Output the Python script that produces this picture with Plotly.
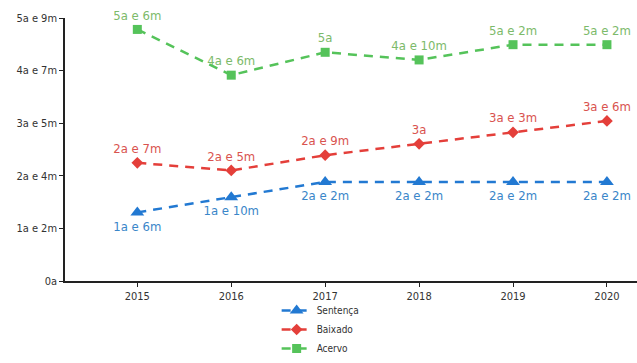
import plotly.graph_objects as go

# Tempo médio (em meses) por ano
anos = ["2015", "2016", "2017", "2018", "2019", "2020"]
sentenca = [18, 22, 26, 26, 26, 26]
baixado = [31, 29, 33, 36, 39, 42]
acervo = [66, 54, 60, 58, 62, 62]

# Marcas do eixo Y (em meses)
y_ticks = [0, 13.8, 27.6, 41.4, 55.2, 69]


def fmt(meses):
    total = int(round(meses))
    a, m = divmod(total, 12)
    return f"{a}a e {m}m" if m else f"{a}a"


FONT = "DejaVu Sans Condensed"

series = [
    ("Sentença", sentenca, "#2279d2", "#3a86c9", "triangle-up", 12, "bottom center"),
    ("Baixado", baixado, "#e43f3a", "#d9534f", "diamond", 9, "top center"),
    ("Acervo", acervo, "#55c35a", "#7cba6a", "square", 9, "top center"),
]

fig = go.Figure()
for name, vals, col, tcol, sym, sz, pos in series:
    fig.add_trace(go.Scatter(
        x=anos, y=vals, name=name,
        mode="lines+markers+text",
        line=dict(color=col, width=2.5, dash="9px,7px"),
        marker=dict(symbol=sym, size=sz, color=col),
        text=[fmt(v) for v in vals],
        textposition=pos,
        textfont=dict(family=FONT, size=13, color=tcol),
        cliponaxis=False,
    ))

fig.update_layout(
    width=637, height=363,
    margin=dict(l=65, r=0, t=18, b=82),
    paper_bgcolor="white", plot_bgcolor="white",
    font=dict(family=FONT, size=11, color="#333333"),
    showlegend=True,
    legend=dict(
        orientation="v", x=0.37, y=-0.312, xanchor="left", yanchor="bottom",
        font=dict(family=FONT, size=10, color="#333333"),
        tracegroupgap=0, itemwidth=30,
        bgcolor="rgba(0,0,0,0)",
    ),
    xaxis=dict(
        type="category", range=[-0.77, 5.32],
        showline=True, linecolor="#222222", linewidth=1.5,
        ticks="outside", ticklen=4, tickcolor="#222222",
        showgrid=False, zeroline=False,
        tickfont=dict(family=FONT, size=11, color="#333333"),
    ),
    yaxis=dict(
        range=[0, 69],
        tickvals=y_ticks, ticktext=[fmt(v) for v in y_ticks],
        showline=True, linecolor="#222222", linewidth=1.5,
        ticks="outside", ticklen=4, tickcolor="#222222",
        showgrid=False, zeroline=False,
        tickfont=dict(family=FONT, size=11, color="#333333"),
    ),
)

fig.write_html("out.html")
